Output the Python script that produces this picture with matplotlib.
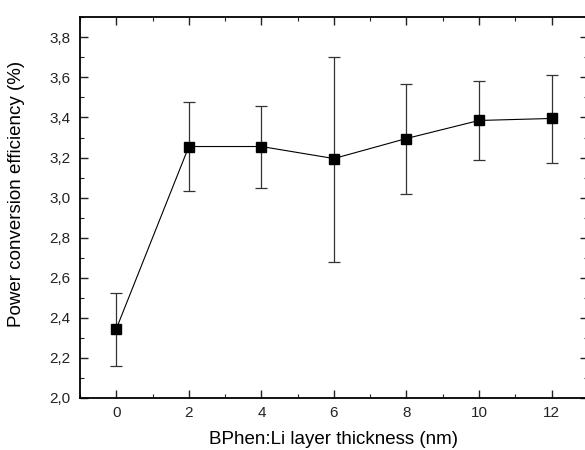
import matplotlib
matplotlib.use('Agg')
import matplotlib.pyplot as plt
from matplotlib.ticker import MultipleLocator, FuncFormatter

# dati
spessore = [0, 2, 4, 6, 8, 10, 12]
pce = [2.345, 3.255, 3.255, 3.195, 3.295, 3.385, 3.395]
err_su = [0.18, 0.22, 0.20, 0.505, 0.27, 0.195, 0.215]
err_giu = [0.185, 0.22, 0.205, 0.515, 0.275, 0.195, 0.22]

plt.rcParams['font.family'] = ['Liberation Sans', 'DejaVu Sans']

fig = plt.figure(figsize=(5.85, 4.5), dpi=100)
ax = fig.add_axes([0.1368, 0.1156, 0.868, 0.846])

ax.errorbar(spessore, pce, yerr=[err_giu, err_su], color='black', linewidth=0.8,
            elinewidth=0.9, ecolor='#333333', capsize=4, capthick=0.9,
            marker='s', markersize=7, markerfacecolor='black', markeredgecolor='black')

ax.set_xlim(-1, 13)
ax.set_ylim(2.0, 3.9)
ax.xaxis.set_major_locator(MultipleLocator(2))
ax.xaxis.set_minor_locator(MultipleLocator(1))
ax.yaxis.set_major_locator(MultipleLocator(0.2))
ax.yaxis.set_minor_locator(MultipleLocator(0.1))
ax.yaxis.set_major_formatter(FuncFormatter(lambda v, p: f'{v:.1f}'.replace('.', ',')))

ax.tick_params(which='both', direction='in', top=True, right=True, labelsize=11, colors='#222222')
ax.tick_params(which='major', length=5.5, width=1)
ax.tick_params(which='minor', length=3, width=0.8)
ax.tick_params(axis='x', which='major', pad=6)
ax.tick_params(axis='y', which='major', pad=7)
for s in ax.spines.values():
    s.set_linewidth(1.3)

ax.set_xlabel('BPhen:Li layer thickness (nm)', fontsize=13.5, labelpad=8)
ax.set_ylabel('Power conversion efficiency (%)', fontsize=13.5)
ax.yaxis.set_label_coords(-0.108, 0.535)

fig.savefig('out.png', dpi=100)
